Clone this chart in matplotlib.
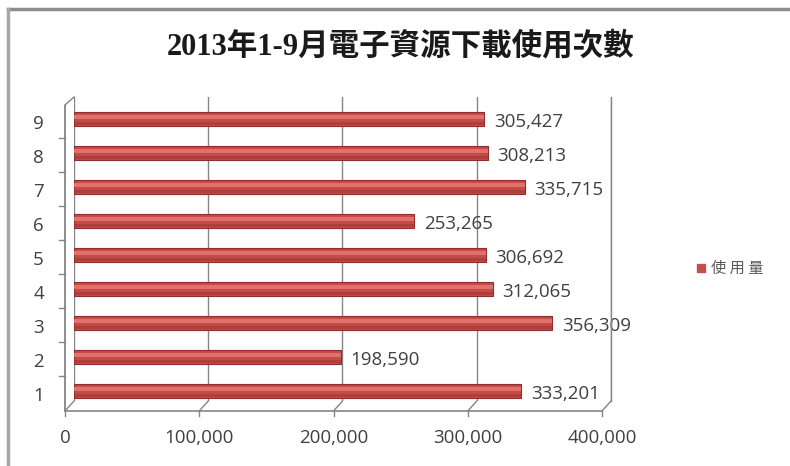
import matplotlib
matplotlib.use("Agg")
import matplotlib.pyplot as plt
from matplotlib.lines import Line2D
from matplotlib.patches import Rectangle
import matplotlib.transforms as mtransforms

plt.rcParams['font.family'] = ['Open Sans', 'Noto Sans CJK TC', 'DejaVu Sans']

categories = ['1', '2', '3', '4', '5', '6', '7', '8', '9']
values = [333201, 198590, 356309, 312065, 306692, 253265, 335715, 308213, 305427]
xticks = [0, 100000, 200000, 300000, 400000]
xticklabels = ['0', '100,000', '200,000', '300,000', '400,000']
title = '2013年1-9月電子資源下載使用次數'
series_name = '使用量'

W, H = 790, 466
fig = plt.figure(figsize=(W / 100, H / 100), dpi=100)
fig.patch.set_facecolor('white')


def pline(xs, ys, **kw):
    """Line in pixel coordinates measured from the top-left corner."""
    fig.add_artist(Line2D([x / W for x in xs], [1 - y / H for y in ys], zorder=5, **kw))


GRAY = '#858585'

# chart border (top and left visible)
pline([8, W], [9, 9], color='#8c8c8c', lw=2.5)
pline([8, 8], [9, H], color='#a6a6a6', lw=2.5)

# back plane of the plot area
x0, x1, y0, y1 = 74, 611, 97, 401
DX, DY = -9, 10  # perspective shift from back plane to front plane
ax = fig.add_axes([x0 / W, 1 - y1 / H, (x1 - x0) / W, (y1 - y0) / H])
ax.set_xlim(0, 400000)
ypos = list(range(len(categories)))
ax.set_ylim(-0.294, 8.647)
ax.set_autoscale_on(False)
for s in ax.spines.values():
    s.set_visible(False)
ax.set_xticks(xticks)
ax.xaxis.grid(True, color=GRAY, lw=1.0)
ax.set_axisbelow(True)
ax.tick_params(length=0)
ax.set_xticklabels([])
ax.set_yticks(ypos)
ax.set_yticklabels([])

# bars with a simple cylinder-like shading
h = 0.41
ax.barh(ypos, values, height=h, color='#c54b48', edgecolor='#8e2f2d', lw=0.8, zorder=3)
ax.barh([p + 0.06 for p in ypos], values, height=h * 0.32, color='#e2716d', lw=0, zorder=4)
ax.barh([p - 0.12 for p in ypos], values, height=h * 0.22, color='#9c3634', lw=0, zorder=4, alpha=0.55)

for p, v in zip(ypos, values):
    ax.annotate(f'{v:,}', (v, p), xytext=(7, -2), textcoords='offset points',
                ha='left', va='center', fontsize=13.5, color='#404040', zorder=5)

# front axis lines
FX = x0 + DX
pline([FX, x1 + DX], [y1 + DY, y1 + DY], color=GRAY, lw=1.2)
ax_w, ax_h = x1 - x0, y1 - y0
ax.plot([DX / ax_w, DX / ax_w], [-DY / ax_h, 1 - 8 / ax_h], transform=ax.transAxes,
        color=GRAY, lw=1.3, clip_on=False, zorder=6, solid_capstyle='butt')
pline([FX, x0], [y0 + 8, y0], color=GRAY, lw=1.0)
pline([x1, x1], [y0, y1], color=GRAY, lw=1.0)

# depth connectors and front x tick marks
for xt in xticks:
    xb = x0 + (x1 - x0) * xt / 400000
    pline([xb + DX, xb], [y1 + DY, y1], color=GRAY, lw=1.0)
    pline([xb + DX, xb + DX], [y1 + DY, y1 + DY + 5], color=GRAY, lw=1.0)

# y tick marks on the front axis (between categories)
to_px = ax.transData
for k in range(len(categories) - 1):
    yy = k + 0.5
    ypx = H - to_px.transform((0, yy))[1] + 2
    pline([FX - 6, FX], [ypx, ypx], color=GRAY, lw=1.0)

# tick labels on the front axis
xlab_trans = ax.transData + mtransforms.ScaledTranslation(DX / 100, -(DY + 18) / 100, fig.dpi_scale_trans)
for xt, lab in zip(xticks, xticklabels):
    ax.text(xt, ax.get_ylim()[0], lab, transform=xlab_trans, ha='center', va='top',
            fontsize=13.5, color='#404040', clip_on=False)
ylab_trans = ax.transData + mtransforms.ScaledTranslation((DX - 21) / 100, -5 / 100, fig.dpi_scale_trans)
for p, c in zip(ypos, categories):
    ax.text(0, p, c, ha='right', va='center', fontsize=13.5, color='#404040', clip_on=False,
            transform=ylab_trans)

fig.text(401 / W, 1 - 47 / H, title, ha='center', va='center', fontsize=22,
         family=['Liberation Serif', 'Noto Sans CJK TC'], weight='bold', color='#1a1a1a')

# legend
fig.add_artist(Rectangle((697 / W, 1 - 272 / H), 8 / W, 8 / H, color='#c0504d',
                         transform=fig.transFigure))
fig.text(711 / W, 1 - 268 / H, ' '.join(series_name), ha='left', va='center', fontsize=11,
         family=['Noto Sans CJK TC'], color='#595959')

fig.savefig('out.png', dpi=100, facecolor='white')
